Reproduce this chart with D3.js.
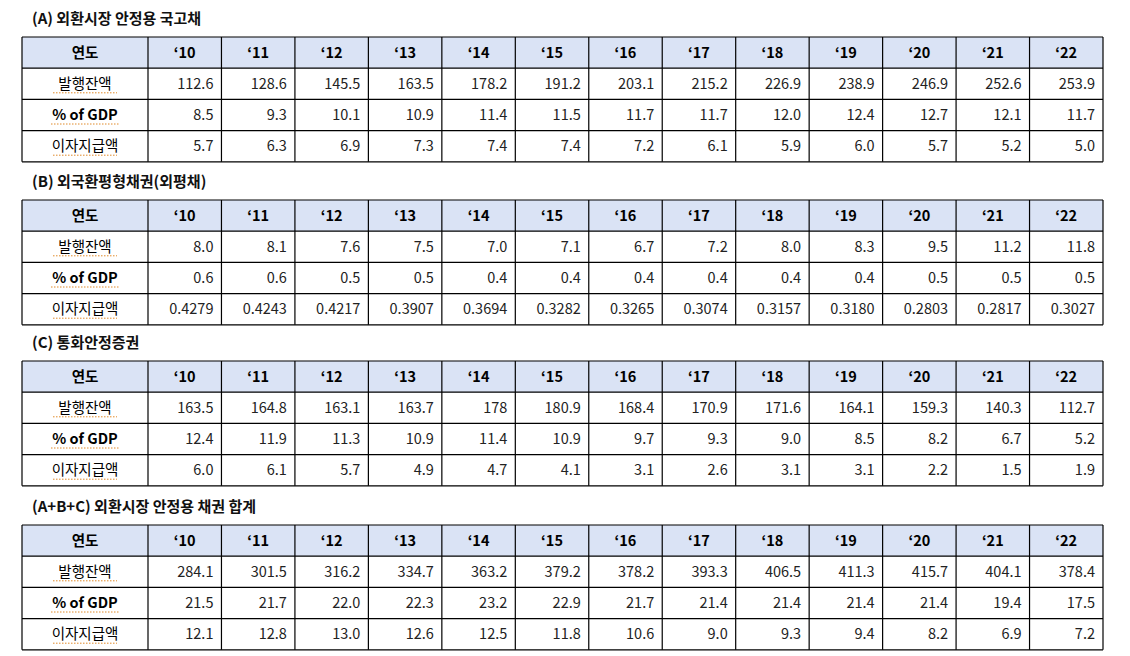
<!DOCTYPE html>
<html><head><meta charset="utf-8">
<script src="https://cdn.jsdelivr.net/npm/d3@7"></script>
<style>body{margin:0;background:#fff}svg{display:block;font-family:"Noto Sans CJK KR","Noto Sans",sans-serif}</style>
</head><body><svg id="c" width="1130" height="656"></svg>
<script>
const years = ["‘10","‘11","‘12","‘13","‘14","‘15","‘16","‘17","‘18","‘19","‘20","‘21","‘22"];
const rowLabels = ["발행잔액","% of GDP","이자지급액"];
const titles = ["(A) 외환시장 안정용 국고채","(B) 외국환평형채권(외평채)","(C) 통화안정증권","(A+B+C) 외환시장 안정용 채권 합계"];
const aIssued = ["112.6","128.6","145.5","163.5","178.2","191.2","203.1","215.2","226.9","238.9","246.9","252.6","253.9"];
const aGdp = ["8.5","9.3","10.1","10.9","11.4","11.5","11.7","11.7","12.0","12.4","12.7","12.1","11.7"];
const aInt = ["5.7","6.3","6.9","7.3","7.4","7.4","7.2","6.1","5.9","6.0","5.7","5.2","5.0"];
const bIssued = ["8.0","8.1","7.6","7.5","7.0","7.1","6.7","7.2","8.0","8.3","9.5","11.2","11.8"];
const bGdp = ["0.6","0.6","0.5","0.5","0.4","0.4","0.4","0.4","0.4","0.4","0.5","0.5","0.5"];
const bInt = ["0.4279","0.4243","0.4217","0.3907","0.3694","0.3282","0.3265","0.3074","0.3157","0.3180","0.2803","0.2817","0.3027"];
const cIssued = ["163.5","164.8","163.1","163.7","178","180.9","168.4","170.9","171.6","164.1","159.3","140.3","112.7"];
const cGdp = ["12.4","11.9","11.3","10.9","11.4","10.9","9.7","9.3","9.0","8.5","8.2","6.7","5.2"];
const cInt = ["6.0","6.1","5.7","4.9","4.7","4.1","3.1","2.6","3.1","3.1","2.2","1.5","1.9"];
const tIssued = ["284.1","301.5","316.2","334.7","363.2","379.2","378.2","393.3","406.5","411.3","415.7","404.1","378.4"];
const tGdp = ["21.5","21.7","22.0","22.3","23.2","22.9","21.7","21.4","21.4","21.4","21.4","19.4","17.5"];
const tInt = ["12.1","12.8","13.0","12.6","12.5","11.8","10.6","9.0","9.3","9.4","8.2","6.9","7.2"];
const tables = [[aIssued,aGdp,aInt],[bIssued,bGdp,bInt],[cIssued,cGdp,cInt],[tIssued,tGdp,tInt]];

const svg = d3.select("#c");
const x = d3.scaleBand().domain(years).range([148,1103]);
const tops = [37,200,361,525];
const rowH = 31.2;
tables.forEach((rows,ti)=>{
  const top = tops[ti];
  const y = d3.scaleBand().domain(["연도",...rowLabels]).range([top, top+4*rowH]);
  svg.append("text").attr("x",32).attr("y",top-13).attr("font-size",15).attr("font-weight","bold").attr("fill","#111").text(titles[ti]);
  const g = svg.append("g");
  g.append("rect").attr("x",22).attr("y",top).attr("width",1081).attr("height",rowH).attr("fill","#dae3f5");
  // header
  g.append("text").attr("x",85).attr("y",y("연도")+rowH/2+5).attr("text-anchor","middle").attr("font-size",14.5).attr("font-weight","bold").text("연도");
  g.selectAll(".yr").data(years).join("text").attr("x",d=>x(d)+x.bandwidth()/2).attr("y",y("연도")+rowH/2+5)
    .attr("text-anchor","middle").attr("font-size",14.5).attr("font-weight","bold").text(d=>d);
  rowLabels.forEach((lab,ri)=>{
    const yy = y(lab)+rowH/2+5;
    const t = g.append("text").attr("x",85).attr("y",yy).attr("text-anchor","middle").attr("font-size",14.5)
      .attr("font-weight", ri===1?"bold":"normal").text(lab);
    const w = ri===1?68:64;
    g.append("line").attr("x1",85-w/2).attr("x2",85+w/2).attr("y1",yy+4).attr("y2",yy+4)
      .attr("stroke","#e08a2a").attr("stroke-width",1).attr("stroke-dasharray","1.5,1.5");
    g.selectAll(null).data(rows[ri]).join("text").attr("x",(d,i)=>x(years[i])+x.bandwidth()-8).attr("y",yy)
      .attr("text-anchor","end").attr("font-size",14.5).attr("fill","#222").text(d=>d);
  });
  // grid
  [0,1,2,3,4].forEach(k=>g.append("line").attr("x1",22).attr("x2",1103).attr("y1",top+k*rowH).attr("y2",top+k*rowH).attr("stroke","#000").attr("stroke-width",1.2));
  [22,148,...years.map(d=>x(d)+x.bandwidth())].forEach(v=>g.append("line").attr("x1",v).attr("x2",v).attr("y1",top).attr("y2",top+4*rowH).attr("stroke","#000").attr("stroke-width",1.2));
});
</script></body></html>
